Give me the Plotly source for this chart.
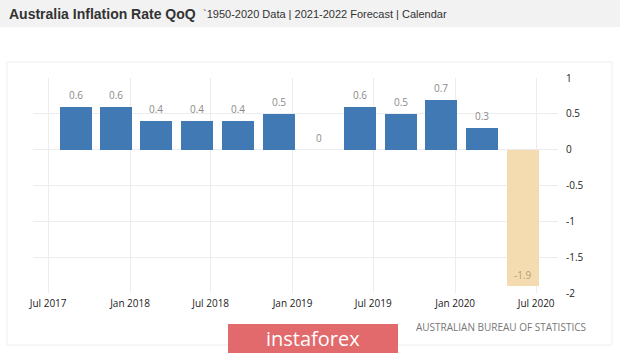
import plotly.graph_objects as go

# ---- data ----
dates = ["2017-09-01", "2017-12-01", "2018-03-01", "2018-06-01", "2018-09-01", "2018-12-01",
         "2019-03-01", "2019-06-01", "2019-09-01", "2019-12-01", "2020-03-01", "2020-06-01"]
values = [0.6, 0.6, 0.4, 0.4, 0.4, 0.5, 0, 0.6, 0.5, 0.7, 0.3, -1.9]
tick_dates = ["2017-07-01", "2018-01-01", "2018-07-01", "2019-01-01", "2019-07-01", "2020-01-01", "2020-07-01"]
tick_text = ["Jul 2017", "Jan 2018", "Jul 2018", "Jan 2019", "Jul 2019", "Jan 2020", "Jul 2020"]
y_ticks = [1, 0.5, 0, -0.5, -1, -1.5, -2]
y_text = ["1", "0.5", "0", "-0.5", "-1", "-1.5", "-2"]

W, H = 620, 353
L, R, T, B = 33, 558, 78, 293  # plot area in px


def px(x):
    return (x - L) / (R - L)


def py(y):
    return (B - y) / (B - T)


BLUE = "#4079b3"
TAN = "#f5dcb0"
colors = [TAN if i == len(values) - 1 else BLUE for i in range(len(values))]

fig = go.Figure()
fig.add_trace(go.Bar(
    x=dates, y=values, marker=dict(color=colors, line=dict(width=0)),
    width=72 * 86400000, hoverinfo="skip",
))

annotations = []
for i, (d, v) in enumerate(zip(dates, values)):
    last = i == len(values) - 1
    annotations.append(dict(
        x=d, y=v, xref="x", yref="y", text=str(v), showarrow=False,
        yanchor="bottom", yshift=2 if last else 3,
        font=dict(family="Open Sans", size=10, color="#b89c78" if last else "#8a8a8a"),
    ))

# title
annotations.append(dict(x=px(7), y=py(14), xref="paper", yref="paper", xanchor="left", yanchor="middle",
                        text="<b>Australia Inflation Rate QoQ</b>", showarrow=False,
                        font=dict(family="Liberation Sans", size=14, color="#333333")))
annotations.append(dict(x=px(201), y=py(14), xref="paper", yref="paper", xanchor="left", yanchor="middle",
                        text="`1950-2020 Data | 2021-2022 Forecast | Calendar", showarrow=False,
                        font=dict(family="Liberation Sans", size=11, color="#333333")))
# source
annotations.append(dict(x=px(588), y=py(327), xref="paper", yref="paper", xanchor="right", yanchor="middle",
                        text="AUSTRALIAN BUREAU OF STATISTICS", showarrow=False,
                        font=dict(family="Open Sans", size=10, color="#777777")))
# watermark
annotations.append(dict(x=px(313), y=py(338), xref="paper", yref="paper", xanchor="center", yanchor="middle",
                        text="instaforex", showarrow=False,
                        font=dict(family="Open Sans", size=20, color="#ffffff")))

shapes = [
    dict(type="rect", xref="paper", yref="paper", x0=px(0), x1=px(620), y0=py(0), y1=py(27),
         fillcolor="#f2f2f2", line=dict(width=0), layer="below"),
    dict(type="rect", xref="paper", yref="paper", x0=px(7), x1=px(612), y0=py(62), y1=py(345),
         fillcolor="rgba(0,0,0,0)", line=dict(width=1, color="#eeeeee"), layer="below"),
    dict(type="rect", xref="paper", yref="paper", x0=px(228), x1=px(398), y0=py(324), y1=py(353),
         fillcolor="#e26a6c", line=dict(width=0), layer="above"),
]

fig.update_layout(
    width=W, height=H, margin=dict(l=L, r=W - R, t=T, b=H - B),
    paper_bgcolor="white", plot_bgcolor="white", showlegend=False, bargap=0,
    annotations=annotations, shapes=shapes,
    xaxis=dict(type="date", range=["2017-05-28", "2020-08-19"], tickvals=tick_dates, ticktext=tick_text,
               showgrid=True, gridcolor="#ececec", gridwidth=1, zeroline=False, showline=False,
               ticks="", tickfont=dict(family="Open Sans", size=10, color="#222222"), ticklabelstandoff=3,
               fixedrange=True),
    yaxis=dict(range=[-2, 1], side="right", tickvals=y_ticks, ticktext=y_text,
               showgrid=True, gridcolor="#ececec", gridwidth=1, zeroline=False, showline=False,
               ticks="", tickfont=dict(family="Open Sans", size=10, color="#222222"), ticklabelstandoff=7,
               fixedrange=True),
)

fig.write_html("out.html")
